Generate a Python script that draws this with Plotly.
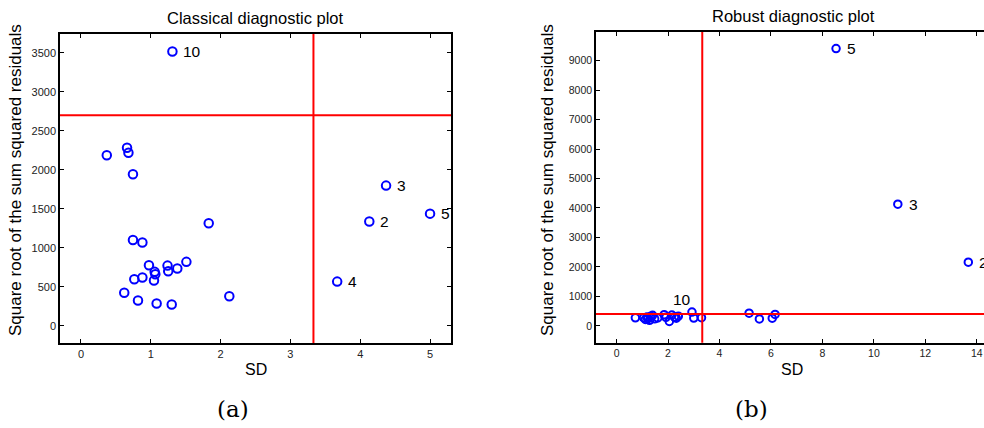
import plotly.graph_objects as go

# ---------------- data ----------------
classical_sd = [0.37, 4.13, 4.37, 3.67, 5.00, 0.66, 0.68, 0.745, 1.83, 1.31,
                0.745, 0.88, 0.974, 1.24, 1.51, 1.38, 1.25, 1.056, 1.065, 1.046,
                0.764, 0.88, 0.62, 0.817, 1.084, 1.30, 2.125]
classical_res = [2186, 1336, 1797, 567, 1438, 2283, 2219, 1943, 1315, 3515,
                 1101, 1067, 777, 772, 820, 734, 700, 692, 662, 580,
                 598, 619, 423, 324, 286, 273, 380]
classical_labelled = [10, 3, 2, 5, 4]
classical_cut_sd = 3.33
classical_cut_res = 2700

robust_sd = [0.73, 13.67, 10.93, 6.16, 8.53, 5.15, 5.55, 6.05, 3.30, 2.93,
             3.00, 1.05, 1.12, 1.18, 1.22, 1.28, 1.33, 1.40, 1.48, 1.60,
             1.85, 1.92, 2.05, 2.15, 2.25, 2.32, 2.40]
robust_res = [275, 2161, 4128, 390, 9407, 430, 237, 260, 280, 470,
              265, 280, 220, 300, 250, 190, 330, 360, 240, 270,
              380, 290, 150, 370, 300, 260, 330]
robust_labelled = [5, 3, 2]
robust_label10 = 10
robust_cut_sd = 3.33
robust_cut_res = 400

titles = ["Classical diagnostic plot", "Robust diagnostic plot"]
xlabel = "SD"
ylabel = "Square root of the sum squared residuals"
captions = ["(a)", "(b)"]

# ---------------- figure ----------------
W, H = 984, 428
FONT = "Liberation Sans, Arial, sans-serif"
fig = go.Figure()

fig.add_trace(go.Scatter(x=classical_sd, y=classical_res, mode="markers",
                         marker=dict(symbol="circle-open", size=8.5, color="#0000ff",
                                     line=dict(width=2, color="#0000ff")),
                         xaxis="x", yaxis="y", showlegend=False))
fig.add_trace(go.Scatter(x=robust_sd, y=robust_res, mode="markers",
                         marker=dict(symbol="circle-open", size=7.5, color="#0000ff",
                                     line=dict(width=2, color="#0000ff")),
                         xaxis="x2", yaxis="y2", showlegend=False))

red = "#ff0000"
shapes = [
    dict(type="line", xref="x", yref="paper", x0=classical_cut_sd, x1=classical_cut_sd,
         y0=1 - 343 / H, y1=1 - 34 / H, line=dict(color=red, width=2)),
    dict(type="line", xref="paper", yref="y", x0=60 / W, x1=451 / W,
         y0=classical_cut_res, y1=classical_cut_res, line=dict(color=red, width=2)),
    dict(type="line", xref="x2", yref="paper", x0=robust_cut_sd, x1=robust_cut_sd,
         y0=1 - 342.7 / H, y1=1 - 32 / H, line=dict(color=red, width=2)),
    dict(type="line", xref="paper", yref="y2", x0=596 / W, x1=1.0,
         y0=robust_cut_res, y1=robust_cut_res, line=dict(color=red, width=2)),
]

annotations = []
for obs in classical_labelled:
    i = obs - 1
    annotations.append(dict(x=classical_sd[i], y=classical_res[i], xref="x", yref="y",
                            text=str(obs), showarrow=False, xanchor="left", yanchor="middle",
                            xshift=9, font=dict(family=FONT, size=15.5, color="black")))
for obs in robust_labelled:
    i = obs - 1
    annotations.append(dict(x=robust_sd[i], y=robust_res[i], xref="x2", yref="y2",
                            text=str(obs), showarrow=False, xanchor="left", yanchor="middle",
                            xshift=9, font=dict(family=FONT, size=15.5, color="black")))
i = robust_label10 - 1
annotations.append(dict(x=robust_sd[i], y=robust_res[i], xref="x2", yref="y2",
                        text=str(robust_label10), showarrow=False, xanchor="center",
                        yanchor="middle", xshift=-10, yshift=13,
                        font=dict(family=FONT, size=15.5, color="black")))


def paper_text(x, y, text, size, family=FONT, angle=0):
    return dict(x=x / W, y=1 - y / H, xref="paper", yref="paper", text=text,
                textangle=angle, xanchor="center", yanchor="middle", showarrow=False,
                font=dict(family=family, size=size, color="black"))


SERIF = "DejaVu Serif, Liberation Serif, serif"
annotations += [
    paper_text(255.5, 18, titles[0], 16.5),
    paper_text(793, 16, titles[1], 16.5),
    paper_text(255.5, 369, xlabel, 16),
    paper_text(792, 369, xlabel, 16),
    paper_text(16, 180, ylabel, 17, angle=-90),
    paper_text(548, 180, ylabel, 17, angle=-90),
    paper_text(233, 409, captions[0], 23, SERIF),
    paper_text(751, 409, captions[1], 23, SERIF),
]

axis_common = dict(showgrid=False, zeroline=False, ticks="inside", ticklen=4,
                   tickcolor="black", linecolor="black", linewidth=1.5,
                   showline=True, tickfont=dict(family=FONT, size=11, color="#222"))
small_ticks = {**axis_common, "tickfont": dict(family=FONT, size=10.5, color="#222")}

fig.update_layout(
    width=W, height=H, margin=dict(l=0, r=0, t=0, b=0),
    paper_bgcolor="white", plot_bgcolor="white",
    shapes=shapes, annotations=annotations,
    xaxis=dict(domain=[60 / W, 451 / W], range=[-0.3, 5.3], tickvals=[0, 1, 2, 3, 4, 5],
               anchor="y", mirror="ticks", **axis_common),
    yaxis=dict(domain=[1 - 343 / H, 1 - 34 / H], range=[-220, 3740],
               tickvals=[0, 500, 1000, 1500, 2000, 2500, 3000, 3500],
               anchor="x", mirror="ticks", **axis_common),
    xaxis2=dict(domain=[596 / W, 1.0], range=[-0.8, 14.28],
                tickvals=[0, 2, 4, 6, 8, 10, 12, 14],
                anchor="y2", mirror="ticks", **small_ticks),
    yaxis2=dict(domain=[1 - 342.7 / H, 1 - 32 / H], range=[-570, 9970],
                tickvals=[0, 1000, 2000, 3000, 4000, 5000, 6000, 7000, 8000, 9000],
                anchor="x2", mirror=False, **small_ticks),
)

fig.write_html("out.html")
